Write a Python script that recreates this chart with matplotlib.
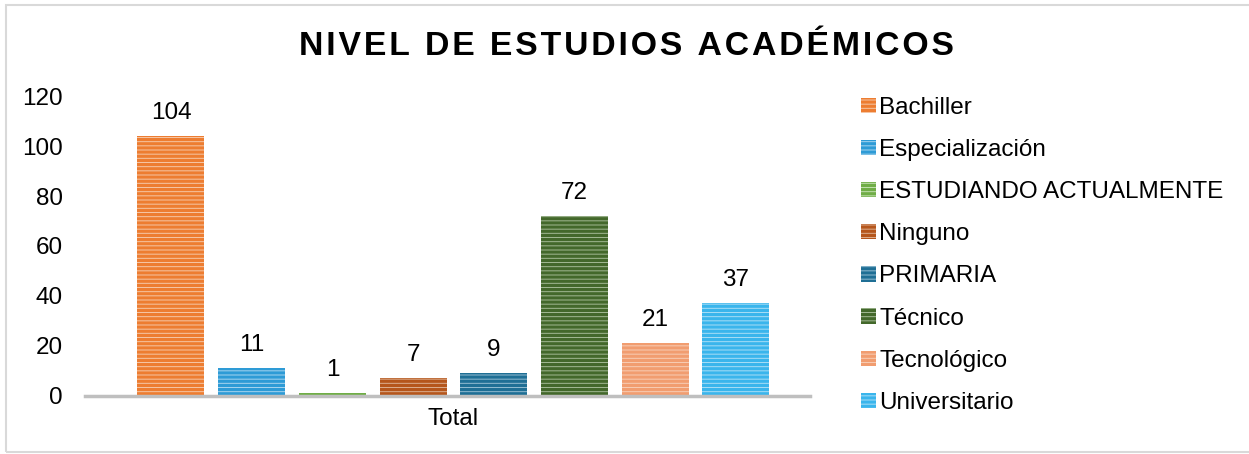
import matplotlib.pyplot as plt
import matplotlib.patches as mpatches

plt.rcParams['font.family'] = ['Liberation Sans', 'DejaVu Sans']
plt.rcParams['hatch.linewidth'] = 2.3

categories = ["Bachiller", "Especialización", "ESTUDIANDO ACTUALMENTE", "Ninguno",
              "PRIMARIA", "Técnico", "Tecnológico", "Universitario"]
values = [104, 11, 1, 7, 9, 72, 21, 37]
colors = ["#ED7D31", "#2E9BD6", "#70AD47", "#B5561C", "#1F6F95", "#43682B", "#F19D70", "#3AB5EC"]
lights = ["#F6C7A6", "#A8D5EF", "#C2E0AF", "#DDAE8F", "#93BDD1", "#A3B994", "#F8CDB5", "#A9DEF6"]

fig = plt.figure(figsize=(12.49, 4.54), dpi=100)
fig.patches.append(mpatches.Rectangle((0.005, 0.005), 1.2, 0.985, transform=fig.transFigure,
                                      fill=False, edgecolor="#D9D9D9", linewidth=1.5))
ax = fig.add_axes([0.068, 0.1278, 0.5807, 0.6607])

for i, (v, c, lc) in enumerate(zip(values, colors, lights)):
    ax.bar(i, v, width=0.83, facecolor=lc, edgecolor=c, hatch='----', linewidth=0)
    ax.text(i, v + 5, str(v), ha='center', va='bottom', fontsize=17.5)

ax.set_xlim(-1.066, 7.92)
ax.set_ylim(0, 120)
ax.set_yticks(range(0, 121, 20))
ax.tick_params(axis='y', length=0, labelsize=17.5, pad=16)
ax.set_xticks([3.5])
ax.set_xticklabels(["Total"])
ax.tick_params(axis='x', length=0, labelsize=17.5, pad=9)
for s in ['top', 'right', 'left']:
    ax.spines[s].set_visible(False)
ax.spines['bottom'].set_color('#BFBFBF')
ax.spines['bottom'].set_linewidth(2.5)

title = "NIVEL DE ESTUDIOS ACADÉMICOS"
fig.text(0.502, 0.898, '\u200a'.join(title), ha='center', va='center',
         fontsize=24.3, fontweight='bold')

handles = [mpatches.Patch(facecolor=lc, edgecolor=c, hatch='----', linewidth=0)
           for c, lc in zip(colors, lights)]
fig.legend(handles, categories, loc='upper left', bbox_to_anchor=(0.672, 0.835),
           frameon=False, fontsize=17.5, handlelength=0.6, handleheight=0.6,
           handletextpad=0.15, labelspacing=0.83)

fig.savefig("out.png", dpi=100)
